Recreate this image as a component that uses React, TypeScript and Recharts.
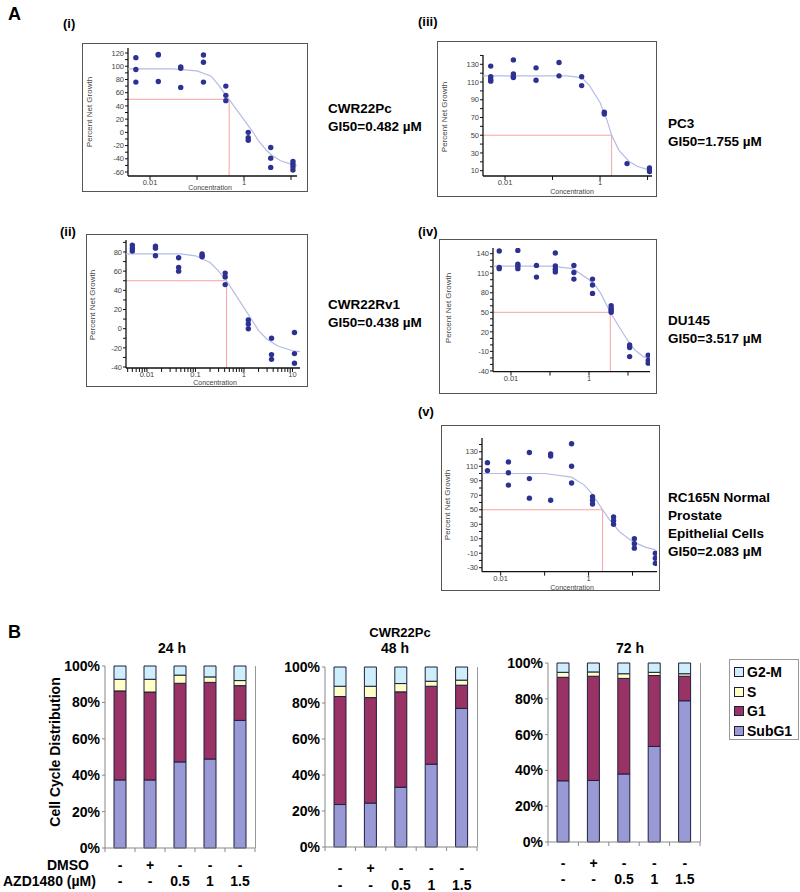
import React from 'react';
import { ScatterChart, Scatter, XAxis, YAxis, ReferenceLine, BarChart, Bar } from 'recharts';

// ---- Panel A: dose response (Percent Net Growth vs concentration, µM) ----
const conc = [0.005, 0.015, 0.045, 0.137, 0.41, 1.23, 3.7, 11];
const concLong = [0.005, 0.015, 0.045, 0.137, 0.41, 1.23, 3.7, 11, 33];

const cwr22pcGrowth = [[113, 95, 76], [118, 117, 77], [99, 97, 68], [117, 106, 76], [70, 56, 48], [0, -8, -12], [-23, -39, -53], [-44, -48, -52, -57]];
const cwr22pcCurveX = [0.0034, 0.03, 0.1, 0.2, 0.3, 0.41, 0.482, 0.7, 1, 1.5, 2, 3, 4, 6, 10, 13.4];
const cwr22pcCurveY = [96, 96, 93, 85, 70, 56, 50, 34, 19, 2, -12, -27, -35, -43, -48, -50];

const cwr22rv1Growth = [[87, 84, 81], [86, 84, 76], [74, 64, 60], [78, 76, 75], [58, 54, 46], [9, 5, 0], [-10, -27, -32], [-4, -26, -36]];
const cwr22rv1CurveX = [0.0037, 0.05, 0.1, 0.2, 0.3, 0.438, 0.7, 1, 1.5, 2, 3, 5, 10, 14.3];
const cwr22rv1CurveY = [78, 78, 76, 69, 60, 50, 34, 22, 8, -2, -11, -18, -23, -24];

const pc3Growth = [[128, 116, 113, 111], [135, 119, 116, 115], [126, 112], [132, 117], [116, 106], [76, 74], [18], [13, 11, 9]];
const pc3CurveX = [0.0034, 0.2, 0.41, 0.6, 1, 1.4, 1.755, 2.5, 4, 6, 9, 12.4];
const pc3CurveY = [117, 117, 115, 106, 87, 67, 50, 33, 21, 15, 12, 11];

const du145Growth = [[144, 119, 117], [145, 124, 121, 117], [122, 104], [141, 121, 116, 112], [122, 111, 101], [101, 92, 79], [60, 56, 53, 50], [0, -4, -18], [-16, -24, -28]];
const du145CurveX = [0.0035, 0.1, 0.39, 1, 1.5, 2, 3.517, 6, 10, 15, 25, 36];
const du145CurveY = [121, 121, 117, 100, 90, 79, 50, 27, 6, -8, -18, -22];

const rc165nGrowth = [[115, 104], [116, 101, 84], [129, 93, 66], [127, 124, 63], [141, 110, 87], [68, 63, 58], [40, 35, 30], [10, 3, -3], [-10, -17, -24]];
const rc165nCurveX = [0.0038, 0.1, 0.41, 0.8, 1.2, 2.083, 3, 5, 10, 20, 33];
const rc165nCurveY = [100, 100, 95, 84, 72, 50, 36, 20, 6, -2, -5];

const gi50s = [0.482, 0.438, 1.755, 3.517, 2.083];

const decadeTicks = [0.01, 0.1, 1, 10];
const decadeLabels = [0.01, 1];
const logMinorTicks = [0.004, 0.005, 0.006, 0.007, 0.008, 0.009, 0.01, 0.02, 0.03, 0.04, 0.05, 0.06, 0.07, 0.08, 0.09, 0.1, 0.2, 0.3, 0.4, 0.5, 0.6, 0.7, 0.8, 0.9, 1, 2, 3, 4, 5, 6, 7, 8, 9, 10];
const logMinorLabels = [0.01, 0.1, 1, 10];

const ticksI = [-60, -50, -40, -30, -20, -10, 0, 10, 20, 30, 40, 50, 60, 70, 80, 90, 100, 110, 120];
const labelsI = [-60, -40, -20, 0, 20, 40, 60, 80, 100, 120];
const ticksII = [-40, -30, -20, -10, 0, 10, 20, 30, 40, 50, 60, 70, 80, 90];
const labelsII = [-40, -20, 0, 20, 40, 60, 80];
const ticksIII = [10, 20, 30, 40, 50, 60, 70, 80, 90, 100, 110, 120, 130, 140];
const labelsIII = [10, 30, 50, 70, 90, 110, 130];
const ticksIV = [-40, -30, -20, -10, 0, 10, 20, 30, 40, 50, 60, 70, 80, 90, 100, 110, 120, 130, 140];
const labelsIV = [-40, -10, 20, 50, 80, 110, 140];
const ticksV = [-30, -20, -10, 0, 10, 20, 30, 40, 50, 60, 70, 80, 90, 100, 110, 120, 130, 140];
const labelsV = [-30, -10, 10, 30, 50, 70, 90, 110, 130];

const titlesI = ['CWR22Pc', 'GI50=0.482 µM'];
const titlesII = ['CWR22Rv1', 'GI50=0.438 µM'];
const titlesIII = ['PC3', 'GI50=1.755 µM'];
const titlesIV = ['DU145', 'GI50=3.517 µM'];
const titlesV = ['RC165N Normal', 'Prostate', 'Epithelial Cells', 'GI50=2.083 µM'];

// ---- Panel B: cell cycle distribution (%) ----
const treatDMSO = ['-', '+', '-', '-', '-'];
const treatAZD = ['-', '-', '0.5', '1', '1.5'];
const phases = ['SubG1', 'G1', 'S', 'G2-M'];

const subG1_24 = [37.4, 37.4, 47.3, 48.9, 70.1];
const g1_24 = [48.9, 48.3, 43.2, 42.1, 19.1];
const s_24 = [6.4, 7.0, 4.5, 3.0, 2.8];
const g2m_24 = [7.3, 7.3, 5.0, 6.0, 8.0];

const subG1_48 = [23.6, 24.4, 33.2, 46.0, 77.0];
const g1_48 = [60.0, 58.6, 53.0, 43.3, 12.9];
const s_48 = [5.7, 6.3, 4.6, 2.8, 2.8];
const g2m_48 = [10.7, 10.7, 9.2, 7.9, 7.3];

const subG1_72 = [34.2, 34.4, 38.0, 53.4, 78.9];
const g1_72 = [57.8, 58.2, 53.4, 39.6, 13.7];
const s_72 = [2.8, 2.4, 2.6, 1.8, 1.4];
const g2m_72 = [5.2, 5.0, 6.0, 5.2, 6.0];

const pctTicks = [0, 20, 40, 60, 80, 100];

const FONT = '"Liberation Sans", Arial, sans-serif';
const phaseColors: Record<string, string> = { SubG1: '#9999d6', G1: '#993366', S: '#ffffc6', 'G2-M': '#cdeefa' };

type Pt = { x: number; y: number };

const toPoints = (xs: number[], reps: number[][]): Pt[] =>
  reps.flatMap((vals, i) => vals.map((v) => ({ x: xs[i], y: v })));
const toCurve = (xs: number[], ys: number[]): Pt[] => xs.map((x, i) => ({ x, y: ys[i] }));

const Dot = (p: any) => <circle cx={p.cx} cy={p.cy} r={2.7} fill="#2d3192" />;
const NoDot = () => <g />;

const panels = [
  {
    points: toPoints(conc, cwr22pcGrowth), curve: toCurve(cwr22pcCurveX, cwr22pcCurveY), gi50: gi50s[0],
    xTicks: decadeTicks, xLabels: decadeLabels, yTicks: ticksI, yLabels: labelsI, titles: titlesI, roman: '(i)',
    box: [82, 43, 308, 192], plot: [128, 48, 297, 176], xDomain: [0.0034, 13.4], yDomain: [-66, 127.6],
    yLab: [89, 112], xLab: [210, 187.5], romanPos: [63, 24], titlePos: [328, 109],
  },
  {
    points: toPoints(conc, cwr22rv1Growth), curve: toCurve(cwr22rv1CurveX, cwr22rv1CurveY), gi50: gi50s[1],
    xTicks: logMinorTicks, xLabels: logMinorLabels, yTicks: ticksII, yLabels: labelsII, titles: titlesII, roman: '(ii)',
    box: [86, 234, 308, 387], plot: [126, 240, 300, 368], xDomain: [0.0037, 14.3], yDomain: [-41, 92.5],
    yLab: [92, 305], xLab: [215, 383], romanPos: [60, 232], titlePos: [328, 305],
  },
  {
    points: toPoints(conc, pc3Growth), curve: toCurve(pc3CurveX, pc3CurveY), gi50: gi50s[2],
    xTicks: decadeTicks, xLabels: decadeLabels, yTicks: ticksIII, yLabels: labelsIII, titles: titlesIII, roman: '(iii)',
    box: [437, 41, 657, 197], plot: [483, 55, 652, 176], xDomain: [0.00344, 12.4], yDomain: [4, 140.5],
    yLab: [444, 117], xLab: [572, 192], romanPos: [418, 22], titlePos: [668, 124],
  },
  {
    points: toPoints(concLong, du145Growth), curve: toCurve(du145CurveX, du145CurveY), gi50: gi50s[3],
    xTicks: decadeTicks, xLabels: decadeLabels, yTicks: ticksIV, yLabels: labelsIV, titles: titlesIV, roman: '(iv)',
    box: [439, 239, 657, 394], plot: [493, 248, 650, 371.6], xDomain: [0.00346, 36.6], yDomain: [-41, 148.7],
    yLab: [448, 308], xLab: null, romanPos: [418, 232], titlePos: [668, 321],
  },
  {
    points: toPoints(concLong, rc165nGrowth), curve: toCurve(rc165nCurveX, rc165nCurveY), gi50: gi50s[4],
    xTicks: decadeTicks, xLabels: decadeLabels, yTicks: ticksV, yLabels: labelsV, titles: titlesV, roman: '(v)',
    box: [441, 425, 660, 591], plot: [482, 438, 657, 571.7], xDomain: [0.00376, 36], yDomain: [-35.5, 149],
    yLab: [447, 505], xLab: [572, 587.5], romanPos: [418, 412], titlePos: [668, 498],
  },
];

const axisTick = { fontSize: 7.5, fill: '#444', fontFamily: FONT };

function DosePanel({ p }: { p: any }) {
  const [bl, bt, br, bb] = p.box;
  const [pl, pt, pr, pb] = p.plot;
  const w = br - bl;
  const h = bb - bt;
  const xMin = p.xDomain[0];
  const yMin = p.yDomain[0];
  return (
    <>
      <div style={{ position: 'absolute', left: bl, top: bt, width: w, height: h, border: '1.5px solid #555', boxSizing: 'border-box' }} />
      <div style={{ position: 'absolute', left: bl, top: bt }}>
        <ScatterChart width={w} height={h} margin={{ top: pt - bt, right: br - pr, bottom: 0, left: 0 }}>
          <XAxis
            dataKey="x" type="number" scale="log" domain={p.xDomain} allowDataOverflow
            ticks={p.xTicks} interval={0} height={bb - pb} tickSize={4} tickMargin={0}
            tickFormatter={(v: number) => (p.xLabels.includes(v) ? String(v) : '')}
            tick={axisTick} axisLine={{ stroke: '#111', strokeWidth: 1.3 }} tickLine={{ stroke: '#111' }}
          />
          <YAxis
            dataKey="y" type="number" domain={p.yDomain} allowDataOverflow
            ticks={p.yTicks} interval={0} width={pl - bl} tickSize={3} tickMargin={1}
            tickFormatter={(v: number) => (p.yLabels.includes(v) ? String(v) : '')}
            tick={axisTick} axisLine={{ stroke: '#111', strokeWidth: 1.3 }} tickLine={{ stroke: '#111' }}
          />
          <ReferenceLine segment={[{ x: xMin, y: 50 }, { x: p.gi50, y: 50 }]} stroke="#f4a3a3" strokeWidth={1} />
          <ReferenceLine segment={[{ x: p.gi50, y: yMin }, { x: p.gi50, y: 50 }]} stroke="#f4a3a3" strokeWidth={1} />
          <Scatter data={p.curve} line={{ stroke: '#b4bce4', strokeWidth: 1.2 }} shape={NoDot} isAnimationActive={false} />
          <Scatter data={p.points} shape={Dot} isAnimationActive={false} />
        </ScatterChart>
      </div>
      <div style={{ position: 'absolute', left: p.yLab[0], top: p.yLab[1], transform: 'translate(-50%, -50%) rotate(-90deg)', whiteSpace: 'nowrap', fontSize: 8, color: '#444' }}>
        Percent Net Growth
      </div>
      {p.xLab && (
        <div style={{ position: 'absolute', left: p.xLab[0], top: p.xLab[1], transform: 'translate(-50%, -50%)', whiteSpace: 'nowrap', fontSize: 7, lineHeight: '8px', color: '#444' }}>
          Concentration
        </div>
      )}
      <div style={{ position: 'absolute', left: p.romanPos[0], top: p.romanPos[1] - 8, fontSize: 13, fontWeight: 'bold', lineHeight: '16px' }}>
        {p.roman}
      </div>
      {p.titles.map((t: string, i: number) => (
        <div key={t} style={{ position: 'absolute', left: p.titlePos[0], top: p.titlePos[1] - 9 + i * 18, fontSize: 13.5, fontWeight: 'bold', lineHeight: '18px', whiteSpace: 'nowrap' }}>
          {t}
        </div>
      ))}
    </>
  );
}

const cycleCharts = [
  { title: '24 h', sub: subG1_24, g1: g1_24, s: s_24, g2m: g2m_24, left: 58, top: 640, plot: [105, 666, 255, 848], rows: [865, 881], titleX: 172 },
  { title: '48 h', sub: subG1_48, g1: g1_48, s: s_48, g2m: g2m_48, left: 278, top: 640, plot: [325, 667, 477, 847], rows: [868, 885], titleX: 395 },
  { title: '72 h', sub: subG1_72, g1: g1_72, s: s_72, g2m: g2m_72, left: 500, top: 640, plot: [548, 663, 700, 842], rows: [863, 879], titleX: 630 },
];

function CycleChart({ c }: { c: any }) {
  const [pl, pt, pr, pb] = c.plot;
  const width = pr - c.left + 2;
  const height = 892 - c.top;
  const half = (pr - pl) / treatDMSO.length / 2;
  const data = treatDMSO.map((_, i) => ({
    k: String(i),
    SubG1: c.sub[i],
    G1: c.g1[i],
    S: c.s[i],
    'G2-M': c.g2m[i],
  }));
  const renderTreat = (props: any) => {
    const { x, y, payload } = props;
    const i = Number(payload.value);
    return (
      <g>
        <line x1={x - half} x2={x - half} y1={y} y2={y + 4} stroke="#888" />
        {i === treatDMSO.length - 1 && <line x1={x + half} x2={x + half} y1={y} y2={y + 4} stroke="#888" />}
        <text x={x} y={y + (c.rows[0] - pb)} textAnchor="middle" dominantBaseline="central" fontSize={14} fontWeight="bold" fontFamily={FONT} fill="#000">
          {treatDMSO[i]}
        </text>
        <text x={x} y={y + (c.rows[1] - pb)} textAnchor="middle" dominantBaseline="central" fontSize={14} fontWeight="bold" fontFamily={FONT} fill="#000">
          {treatAZD[i]}
        </text>
      </g>
    );
  };
  return (
    <>
      <div style={{ position: 'absolute', left: c.titleX, top: 648, transform: 'translate(-50%, -50%)', fontSize: 14, fontWeight: 'bold', whiteSpace: 'nowrap' }}>
        {c.title}
      </div>
      <div style={{ position: 'absolute', left: c.left, top: c.top }}>
        <BarChart width={width} height={height} data={data} margin={{ top: pt - c.top, right: 2, left: 0, bottom: 0 }} barSize={12}>
          <XAxis dataKey="k" type="category" axisLine={{ stroke: '#888' }} tickLine={false} tickSize={0} tickMargin={0} height={height - (pb - c.top)} tick={renderTreat} interval={0} />
          <YAxis
            type="number" domain={[0, 100]} ticks={pctTicks} interval={0} width={pl - c.left} tickSize={3} tickMargin={2}
            tickFormatter={(v: number) => `${v}%`} axisLine={{ stroke: '#888' }} tickLine={{ stroke: '#888' }}
            tick={{ fontSize: 14, fontWeight: 'bold', fill: '#000', fontFamily: FONT }}
          />
          {phases.map((ph) => (
            <Bar key={ph} dataKey={ph} stackId="a" fill={phaseColors[ph]} stroke="#1e1e3c" strokeWidth={1} isAnimationActive={false} />
          ))}
        </BarChart>
      </div>
      <div style={{ position: 'absolute', left: pr, top: pt, width: 1, height: pb - pt, background: '#999' }} />
    </>
  );
}

export default function App() {
  return (
    <div style={{ position: 'absolute', left: 0, top: 0, width: 800, height: 892, background: '#fff', fontFamily: FONT, color: '#000', overflow: 'hidden' }}>
      <div style={{ position: 'absolute', left: 8, top: 4, fontSize: 18, fontWeight: 'bold' }}>A</div>
      {panels.map((p) => (
        <DosePanel key={p.roman} p={p} />
      ))}

      <div style={{ position: 'absolute', left: 8, top: 622, fontSize: 18, fontWeight: 'bold' }}>B</div>
      <div style={{ position: 'absolute', left: 400, top: 632, transform: 'translate(-50%, -50%)', fontSize: 13, fontWeight: 'bold' }}>CWR22Pc</div>
      <div style={{ position: 'absolute', left: 55, top: 752, transform: 'translate(-50%, -50%) rotate(-90deg)', whiteSpace: 'nowrap', fontSize: 14, fontWeight: 'bold' }}>
        Cell Cycle Distribution
      </div>
      {cycleCharts.map((c) => (
        <CycleChart key={c.title} c={c} />
      ))}
      <div style={{ position: 'absolute', left: 47, top: 865, transform: 'translateY(-50%)', fontSize: 14, fontWeight: 'bold' }}>DMSO</div>
      <div style={{ position: 'absolute', left: 3, top: 881, transform: 'translateY(-50%)', fontSize: 14, fontWeight: 'bold', whiteSpace: 'nowrap' }}>AZD1480 (µM)</div>

      <div style={{ position: 'absolute', left: 729, top: 659, width: 70, height: 81, border: '1px solid #999', boxSizing: 'border-box' }}>
        {[...phases].reverse().map((ph, i) => (
          <div key={ph} style={{ position: 'absolute', left: 4, top: 3 + i * 19.7, height: 18, display: 'flex', alignItems: 'center', fontSize: 14, fontWeight: 'bold' }}>
            <span style={{ display: 'inline-block', width: 8, height: 8, background: phaseColors[ph], border: '1px solid #1e1e3c', marginRight: 3 }} />
            {ph}
          </div>
        ))}
      </div>
    </div>
  );
}
